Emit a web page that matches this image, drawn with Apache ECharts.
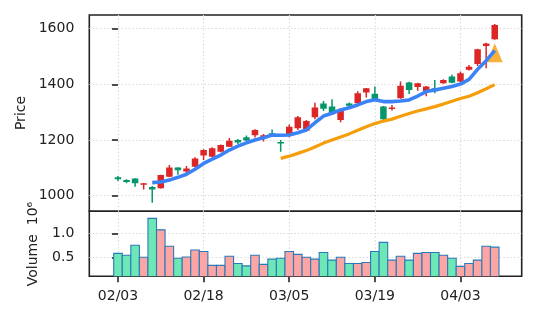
<!DOCTYPE html>
<html>
<head>
<meta charset="utf-8">
<script src="https://cdn.jsdelivr.net/npm/echarts@6/dist/echarts.min.js"></script>
<style>
  html, body { margin: 0; padding: 0; background: #ffffff; }
  #chart { width: 537px; height: 322px; }
</style>
</head>
<body>
<div id="chart"></div>
<script>
// Trading days (one bar per session)
const dates = [
  '02/03','02/04','02/05','02/06','02/07','02/10','02/11','02/12','02/13','02/14',
  '02/18','02/19','02/20','02/21','02/24','02/25','02/26','02/27','03/03','03/04',
  '03/05','03/06','03/07','03/10','03/11','03/12','03/13','03/14','03/17','03/18',
  '03/19','03/20','03/21','03/24','03/25','03/26','03/27','03/28','03/31','04/01',
  '04/03','04/04','04/07','04/08','04/09'
];

// Daily OHLC prices
const openPx = [1066,1056,1062,1039,1031,1027,1068,1101,1087,1104,1144,1140,1158,1176,1200,1210,1217,1206,1224,1193,
                1218,1242,1233,1282,1331,1320,1272,1331,1332,1371,1366,1320,1312,1350,1407,1390,1375,1386,1404,1428,
                1410,1452,1473,1538,1562];
const closePx = [1059,1049,1045,1045,1022,1074,1101,1091,1098,1134,1164,1170,1182,1197,1191,1198,1236,1217,1215,1188,
                 1248,1282,1268,1317,1312,1297,1308,1323,1368,1386,1344,1275,1317,1395,1380,1404,1392,1375,1416,1406,
                 1440,1463,1526,1547,1613];
const highPx = [1071,1059,1063,1046,1035,1075,1110,1102,1107,1138,1167,1174,1184,1207,1204,1216,1239,1222,1238,1200,
                1256,1286,1272,1334,1340,1346,1314,1335,1375,1387,1392,1322,1326,1410,1409,1406,1394,1416,1418,1434,
                1446,1469,1528,1549,1617];
const lowPx = [1053,1045,1032,1022,975,1026,1066,1075,1080,1102,1128,1139,1156,1175,1186,1194,1209,1195,1212,1158,
               1210,1236,1231,1275,1304,1296,1264,1319,1330,1353,1340,1272,1306,1348,1365,1377,1357,1368,1402,1404,
               1408,1450,1466,1458,1560];

// Volume, millions of shares
const volume = [0.59,0.55,0.76,0.51,1.32,1.08,0.74,0.49,0.515,0.66,0.63,0.34,0.34,0.53,0.38,0.33,0.55,0.36,0.47,0.49,
                0.63,0.57,0.51,0.47,0.61,0.45,0.51,0.38,0.38,0.40,0.63,0.82,0.45,0.53,0.45,0.59,0.61,0.61,0.55,0.49,
                0.32,0.38,0.45,0.74,0.72];

// Short moving average (starts at session 4)
const maShortStart = 4;
const maShort = [1047,1049,1056,1066,1077,1095,1116,1131,1146,1164,1178,1190,1200,1208,1218,1217,1218,1226,1236,1262,
                 1286,1296,1308,1316,1326,1338,1345,1338,1338,1340,1344,1358,1374,1380,1386,1392,1401,1418,1454,1485,1521];

// Long moving average (starts at session 19)
const maLongStart = 19;
const maLong = [1134,1142,1152,1162,1175,1189,1200,1211,1222,1235,1248,1259,1268,1275,1285,1295,1304,1312,1320,1329,
                1339,1349,1357,1370,1384,1399];

// Signal marker [session, price]
const signalPoint = [44, 1513];

// Axis ticks
const priceTicks = [1000, 1200, 1400, 1600];
const volumeTicks = [0.5, 1.0];
const dateTickIdx = [0, 10, 20, 30, 40];

const RED = '#dc2626', GREEN = '#059669';
const RED_VOL = '#fca5a5', GREEN_VOL = '#6ee7b7';
const FONT = 'DejaVu Sans';
const INK = '#222222';

const ohlc = dates.map((d, i) => [i, openPx[i], closePx[i], lowPx[i], highPx[i]]);
const volData = dates.map((d, i) => [i, volume[i], closePx[i] >= openPx[i] ? 1 : 0]);

const gridLine = { show: true, lineStyle: { color: '#d9d9d9', width: 1.2, type: [1.4, 2.2] } };
const X_MIN = -3.35, X_MAX = 47.15;

const chart = echarts.init(document.getElementById('chart'), null, { renderer: 'canvas' });

chart.setOption({
  animation: false,
  backgroundColor: '#ffffff',
  grid: [
    { left: 89.3, top: 15, width: 432.4, height: 196.3, show: true, borderColor: INK, borderWidth: 1.6, backgroundColor: 'transparent', outerBoundsMode: 'none' },
    { left: 89.3, top: 211.3, width: 432.4, height: 65, show: true, borderColor: INK, borderWidth: 1.6, backgroundColor: 'transparent', outerBoundsMode: 'none' }
  ],
  xAxis: [
    {
      type: 'value', gridIndex: 0, min: X_MIN, max: X_MAX,
      axisLine: { show: false },
      axisTick: { show: false, customValues: dateTickIdx },
      axisLabel: { show: false, customValues: dateTickIdx },
      splitLine: gridLine
    },
    {
      type: 'value', gridIndex: 1, min: X_MIN, max: X_MAX,
      axisLine: { show: false },
      axisTick: { show: true, length: 6, lineStyle: { color: INK, width: 1.6 }, customValues: dateTickIdx },
      axisLabel: {
        customValues: dateTickIdx, margin: 13,
        fontFamily: FONT, fontSize: 14, color: INK,
        formatter: v => dates[Math.round(v)] || ''
      },
      splitLine: gridLine
    }
  ],
  yAxis: [
    {
      type: 'value', gridIndex: 0, min: 944, max: 1649,
      axisLine: { show: false },
      axisTick: { show: true, length: 6, lineStyle: { color: INK, width: 1.6 }, customValues: priceTicks },
      axisLabel: { customValues: priceTicks, margin: 15, fontFamily: FONT, fontSize: 14, color: INK,
                   formatter: v => String(Math.round(v)) },
      splitLine: gridLine
    },
    {
      type: 'value', gridIndex: 1, min: 0.1125, max: 1.467,
      axisLine: { show: false },
      axisTick: { show: true, length: 6, lineStyle: { color: INK, width: 1.6 }, customValues: volumeTicks },
      axisLabel: { customValues: volumeTicks, margin: 15, fontFamily: FONT, fontSize: 14, color: INK,
                   formatter: v => v.toFixed(1) },
      splitLine: gridLine
    }
  ],
  series: [
    {
      name: 'Candles', type: 'custom', xAxisIndex: 0, yAxisIndex: 0, clip: true, z: 2,
      data: ohlc,
      renderItem: function (params, api) {
        const x = api.value(0), o = api.value(1), c = api.value(2), lo = api.value(3), hi = api.value(4);
        const pO = api.coord([x, o]), pC = api.coord([x, c]);
        const pL = api.coord([x, lo]), pH = api.coord([x, hi]);
        const bw = api.size([1, 0])[0] * 0.76;
        const color = c >= o ? RED : GREEN;
        const top = Math.min(pO[1], pC[1]);
        const h = Math.max(Math.abs(pO[1] - pC[1]), 1.5);
        return {
          type: 'group',
          children: [
            { type: 'line', shape: { x1: pH[0], y1: pH[1], x2: pL[0], y2: pL[1] }, style: { stroke: color, lineWidth: 1.5 } },
            { type: 'rect', shape: { x: pO[0] - bw / 2, y: top, width: bw, height: h }, style: { fill: color } }
          ]
        };
      }
    },
    {
      name: 'Signal', type: 'scatter', xAxisIndex: 0, yAxisIndex: 0, z: 3,
      symbol: 'triangle', symbolSize: [16, 19],
      itemStyle: { color: '#f59e0b' },
      data: [signalPoint]
    },
    {
      name: 'MA long', type: 'line', xAxisIndex: 0, yAxisIndex: 0, z: 3,
      showSymbol: false, symbol: 'none',
      lineStyle: { color: '#f59e0b', width: 3.2 },
      data: maLong.map((v, k) => [maLongStart + k, v])
    },
    {
      name: 'MA short', type: 'line', xAxisIndex: 0, yAxisIndex: 0, z: 4,
      showSymbol: false, symbol: 'none',
      lineStyle: { color: '#3b82f6', width: 3.6 },
      data: maShort.map((v, k) => [maShortStart + k, v])
    },
    {
      name: 'Volume', type: 'custom', xAxisIndex: 1, yAxisIndex: 1, clip: true, z: 2,
      data: volData,
      renderItem: function (params, api) {
        const x = api.value(0), v = api.value(1), up = api.value(2);
        const pTop = api.coord([x, v]);
        const pBase = api.coord([x, 0]);
        const w = api.size([1, 0])[0];
        return {
          type: 'rect',
          shape: { x: pTop[0] - w / 2, y: pTop[1], width: w, height: pBase[1] - pTop[1] },
          style: { fill: up ? RED_VOL : GREEN_VOL, stroke: '#2a7ab8', lineWidth: 1.1 }
        };
      }
    }
  ],
  graphic: [
    {
      type: 'text', x: 21.5, y: 113, rotation: Math.PI / 2,
      style: { text: 'Price', fontFamily: FONT, fontSize: 14, fill: INK,
               textAlign: 'center', textVerticalAlign: 'middle', align: 'center', verticalAlign: 'middle' }
    },
    {
      type: 'text', x: 33, y: 244, rotation: Math.PI / 2,
      style: { text: 'Volume  10\u2076', fontFamily: FONT, fontSize: 14, fill: INK,
               textAlign: 'center', textVerticalAlign: 'middle', align: 'center', verticalAlign: 'middle' }
    }
  ]
});
</script>
</body>
</html>
